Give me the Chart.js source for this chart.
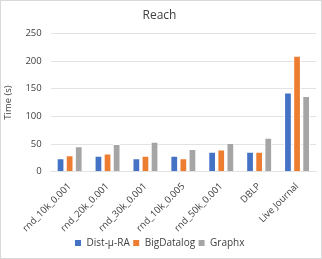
<!DOCTYPE html>
<html>
<head>
<meta charset="utf-8">
<script src="https://cdn.jsdelivr.net/npm/chart.js@4"></script>
<style>
  html, body { margin: 0; padding: 0; background: #fff; }
  #wrap { position: relative; width: 320px; height: 257px; border: 1px solid #d9d9d9; }
</style>
</head>
<body>
<div id="wrap"><canvas id="chart"></canvas></div>
<script>
const categories = ["rnd_10k_0.001", "rnd_20k_0.001", "rnd_30k_0.001", "rnd_10k_0.005", "rnd_50k_0.001", "DBLP", "Live Journal"];
const distMuRA = [24.5, 29, 24.5, 29, 36, 36, 143];
const bigDatalog = [30, 33, 29, 24.5, 40, 36, 209.5];
const graphx = [46, 50, 54, 41, 52, 61.5, 137];
const yTicks = [0, 50, 100, 150, 200, 250];

const fontFamily = "'Open Sans', 'Liberation Sans', sans-serif";
const textColor = "#404040";

function bars(label, data, color) {
  return {
    label: label,
    data: data,
    backgroundColor: color,
    borderColor: "#ffffff",
    borderWidth: 1,
    barPercentage: 0.85,
    categoryPercentage: 0.72
  };
}

new Chart(document.getElementById("chart").getContext("2d"), {
  type: "bar",
  data: {
    labels: categories,
    datasets: [
      bars("Dist-\u03bc-RA", distMuRA, "#4472C4"),
      bars("BigDatalog", bigDatalog, "#ED7D31"),
      bars("Graphx", graphx, "#A5A5A5")
    ]
  },
  options: {
    responsive: true,
    maintainAspectRatio: false,
    animation: false,
    layout: { padding: { left: 2, right: 5, top: 5, bottom: 0 } },
    plugins: {
      title: {
        display: true,
        text: "Reach",
        color: textColor,
        font: { family: fontFamily, size: 12, weight: "normal" },
        padding: { top: 2, bottom: 11 }
      },
      legend: {
        position: "bottom",
        labels: {
          color: textColor,
          font: { family: fontFamily, size: 10 },
          boxWidth: 7,
          boxHeight: 7,
          padding: 3
        }
      },
      tooltip: { enabled: false }
    },
    scales: {
      x: {
        grid: { display: false },
        border: { color: "#e3e3e3" },
        ticks: {
          color: textColor,
          font: { family: fontFamily, size: 9.5 },
          maxRotation: 45,
          minRotation: 45,
          padding: 1
        }
      },
      y: {
        min: 0,
        max: 250,
        afterBuildTicks: function (axis) {
          axis.ticks = yTicks.map(function (v) { return { value: v }; });
        },
        grid: { color: "#e3e3e3", drawTicks: false },
        border: { display: false },
        ticks: {
          color: textColor,
          font: { family: fontFamily, size: 9.5 },
          padding: 9
        },
        title: {
          display: true,
          text: "Time (s)",
          color: textColor,
          font: { family: fontFamily, size: 9.5 },
          padding: { top: 0, bottom: 2 }
        }
      }
    }
  }
});
</script>
</body>
</html>
